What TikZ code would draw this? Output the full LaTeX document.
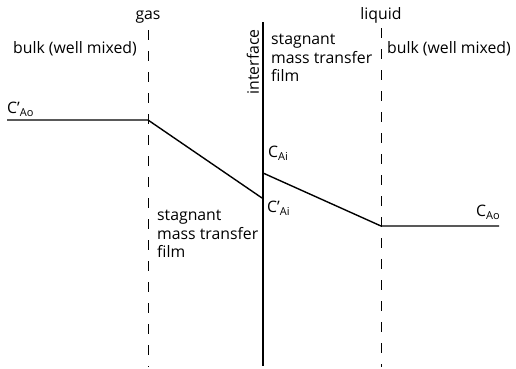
\documentclass[tikz,border=0pt]{standalone}
\usepackage{fontspec}
\setmainfont{Open Sans}
\begin{document}
\begin{tikzpicture}[x=1pt,y=-1pt,
  lbl/.style={inner sep=0pt,font=\fontsize{15.8}{18.5}\selectfont},
  sub/.style={},
  dsh/.style={line width=0.9pt,dash pattern=on 10pt off 11pt},
  prof/.style={line width=1.4pt},
  iface/.style={line width=2.6pt}]
\useasboundingbox (0,0) rectangle (516,368);
% boundaries
\coordinate (g1) at (148,30); \coordinate (g2) at (148,367);
\coordinate (l1) at (381,28); \coordinate (l2) at (381,367);
\coordinate (i1) at (263,22); \coordinate (i2) at (263,366);
\draw[dsh] (g1) -- (g2);
\draw[dsh] (l1) -- (l2);
\draw[iface] (i1) -- (i2);
% profile
\coordinate (p0) at (7,120); \coordinate (p1) at (148,120);
\coordinate (p2) at (262,198); \coordinate (p3) at (263,173);
\coordinate (p4) at (381,226); \coordinate (p5) at (499,226);
\draw[prof] (p0) -- (p1) -- (p2);
\draw[prof] (p3) -- (p4) -- (p5);
% labels
\node[lbl,anchor=base] (gas) at (148,19) {gas};
\node[lbl,anchor=base] (liq) at (381,19) {liquid};
\node[lbl,anchor=base west] (bl) at (13,53) {bulk (well mixed)};
\node[lbl,anchor=base west] (br) at (387,53) {bulk (well mixed)};
\node[lbl,anchor=center,rotate=90] (int) at (253,62) {interface};
\node[lbl,anchor=north west,align=left] (fr) at (271,34) {stagnant\\mass transfer\\film};
\node[lbl,anchor=north west,align=left] (fl) at (157,210) {stagnant\\mass transfer\\film};
\node[lbl,anchor=base west] (cao1) at (7,113) {C’\raisebox{-0.45ex}{\fontsize{11}{11}\selectfont Ao}};
\node[lbl,anchor=base west] (cai) at (268,157) {C\raisebox{-0.45ex}{\fontsize{11}{11}\selectfont Ai}};
\node[lbl,anchor=base west] (cai1) at (267,212) {C’\raisebox{-0.45ex}{\fontsize{11}{11}\selectfont Ai}};
\node[lbl,anchor=base west] (cao) at (476,216) {C\raisebox{-0.45ex}{\fontsize{11}{11}\selectfont Ao}};
\end{tikzpicture}
\end{document}
